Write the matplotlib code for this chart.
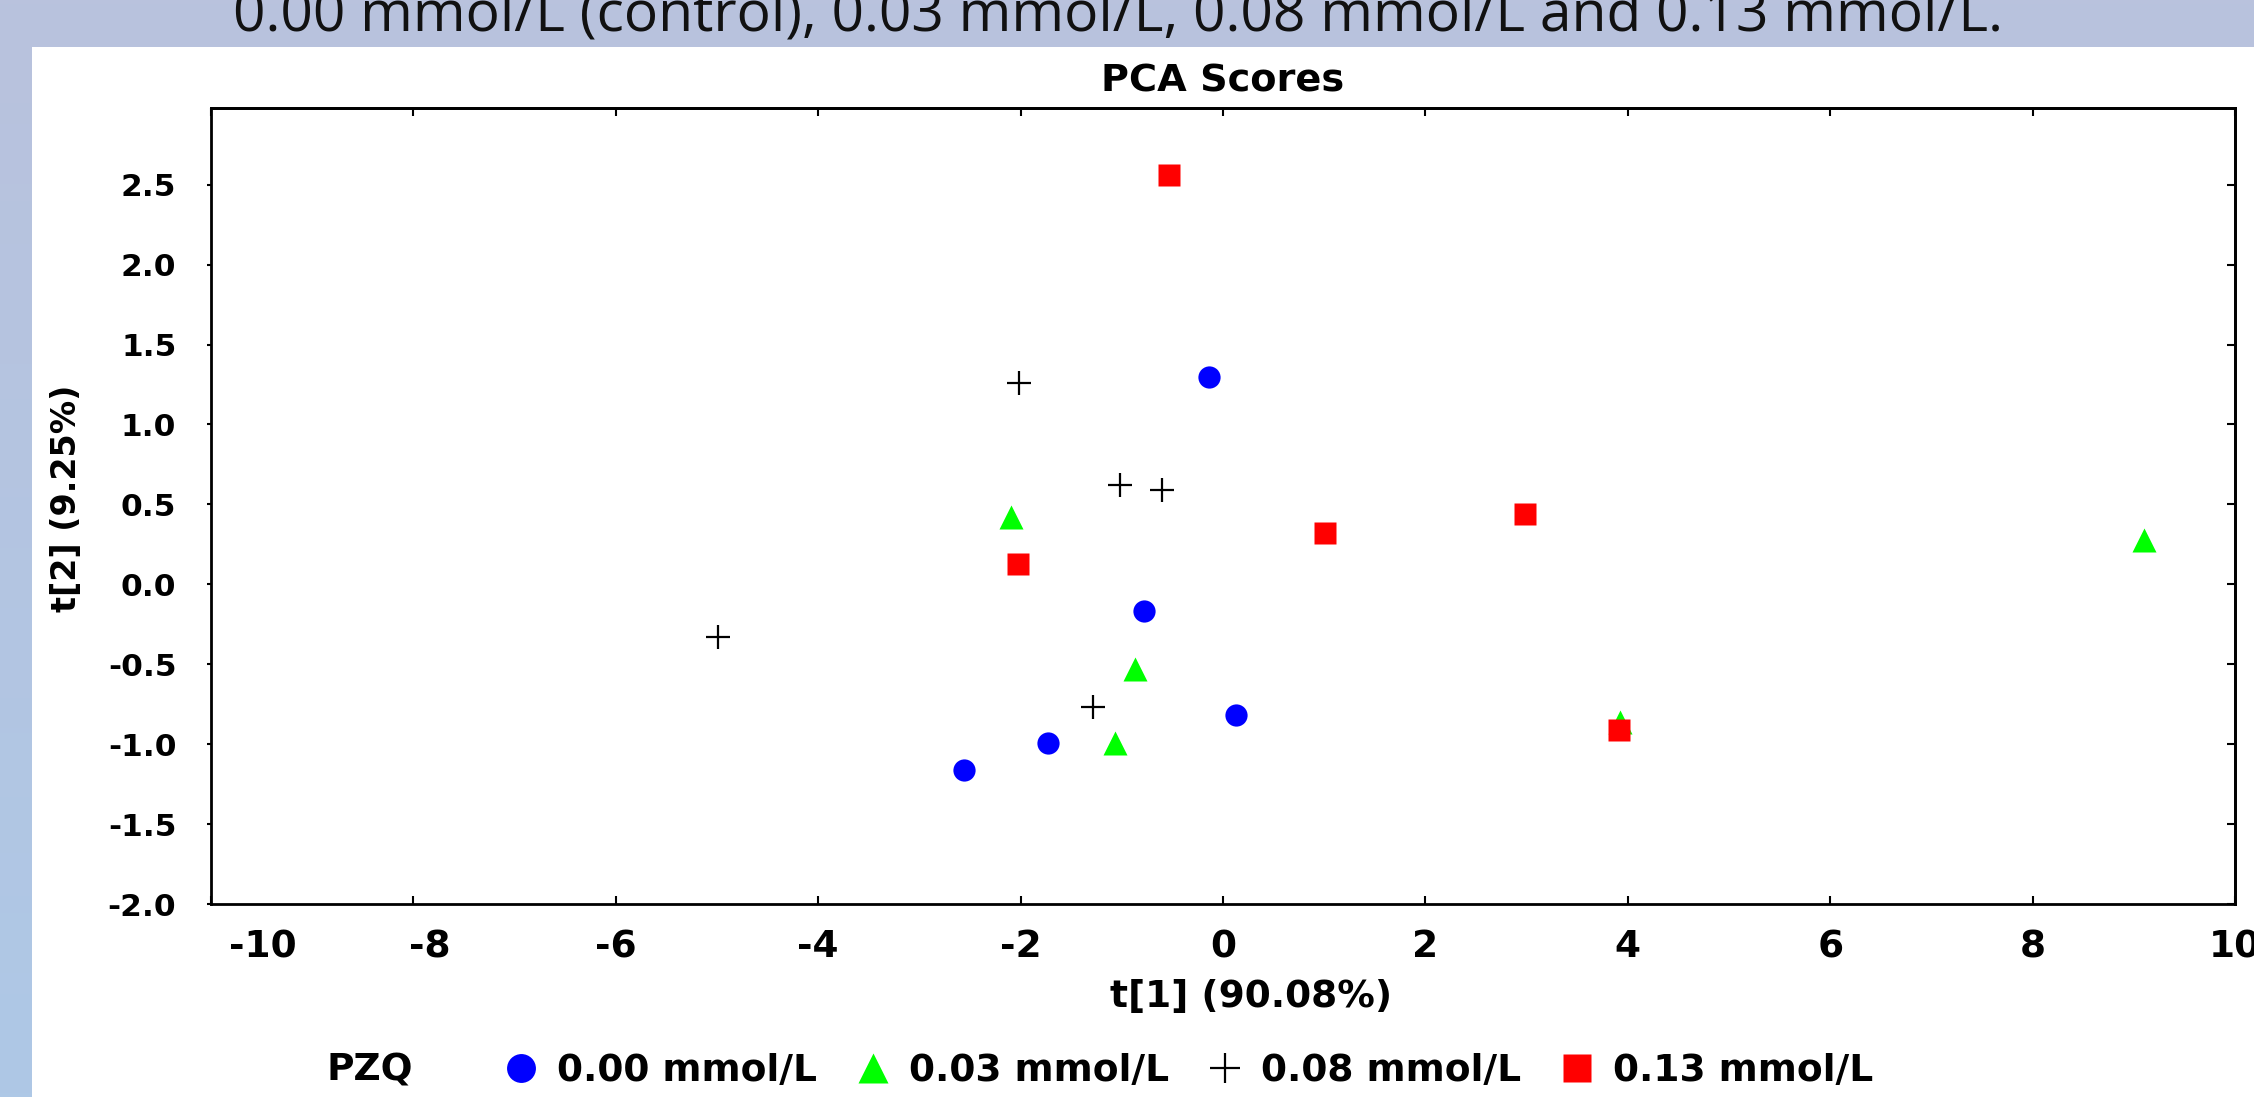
import numpy as np
import matplotlib
matplotlib.use('Agg')
import matplotlib.pyplot as plt
import matplotlib.transforms as mtransforms
from matplotlib.patches import Rectangle

# PCA scores
pzq_labels = ['0.00 mmol/L', '0.03 mmol/L', '0.08 mmol/L', '0.13 mmol/L']

t1_000 = [-0.14, -0.78, 0.13, -1.73, -2.56]
t2_000 = [1.30, -0.17, -0.82, -0.99, -1.16]

t1_003 = [-2.09, -0.87, -1.07, 3.92, 9.10]
t2_003 = [0.42, -0.53, -0.99, -0.86, 0.28]

t1_008 = [-2.02, -1.02, -0.60, -4.99, -1.28]
t2_008 = [1.26, 0.62, 0.59, -0.33, -0.77]

t1_013 = [-0.53, -2.03, 1.01, 2.98, 3.91]
t2_013 = [2.56, 0.13, 0.32, 0.44, -0.91]

xticks = [-10, -8, -6, -4, -2, 0, 2, 4, 6, 8, 10]
yticks = [-2.0, -1.5, -1.0, -0.5, 0.0, 0.5, 1.0, 1.5, 2.0, 2.5]

W, H = 2254, 1097
fig = plt.figure(figsize=(W/100, H/100), dpi=100)

#Slide background: flat band on top, gradient strip on the left
bg = fig.add_axes([0, 0, 1, 1], zorder=-10)
top_c = np.array([185, 194, 221])/255.
bot_c = np.array([174, 200, 230])/255.
s = np.linspace(0, 1, 256)[:, None, None]
grad = top_c*(1-s) + bot_c*s
bg.imshow(grad, aspect='auto', extent=[0, 1, 0, 1])
bg.add_patch(Rectangle((32/W, 0), 1, 1-47/H, facecolor='white', edgecolor='none'))
bg.set_xlim(0, 1)
bg.set_ylim(0, 1)
bg.axis('off')

fig.text(1118/W, 1-32/H, '0.00 mmol/L (control), 0.03 mmol/L, 0.08 mmol/L and 0.13 mmol/L.',
         ha='center', va='baseline', fontsize=41, family='Open Sans', color='#111111')

ax = fig.add_axes([211/W, 1-904/H, (2235-211)/W, (904-108)/H])
ax.set_xlim(-10, 10)
ax.set_ylim(-2.0, 2.98)

ax.plot(t1_000, t2_000, 'o', color='#0000ff', ms=16, mec='none', ls='none', label=pzq_labels[0])
ax.plot(t1_003, t2_003, '^', color='#00ff00', ms=17, mec='none', ls='none', label=pzq_labels[1])
ax.plot(t1_008, t2_008, '+', color='black', ms=17, mew=1.6, ls='none', label=pzq_labels[2])
ax.plot(t1_013, t2_013, 's', color='#ff0000', ms=16, mec='none', ls='none', label=pzq_labels[3])

bold = dict(family='DejaVu Sans', weight='bold')
ax.set_xticks(xticks)
ax.set_xticklabels([str(v) for v in xticks], fontsize=27, **bold)
ax.set_yticks(yticks)
ax.set_yticklabels(['%.1f' % v for v in yticks], fontsize=22.5, **bold)
ax.tick_params(axis='x', direction='in', length=6, width=1.5, pad=18)
ax.tick_params(axis='y', direction='out', length=3, width=1.5, pad=22)

#first two x labels sit a bit to the right in the original
for lab, dx in zip(ax.get_xticklabels()[:2], [52, 16]):
    lab.set_transform(lab.get_transform() + mtransforms.ScaledTranslation(dx/100, 0, fig.dpi_scale_trans))

secx = ax.secondary_xaxis('top')
secx.set_xticks(xticks)
secx.tick_params(direction='in', length=6, width=1.5, labeltop=False)
secy = ax.secondary_yaxis('right')
secy.set_yticks(yticks)
secy.tick_params(direction='in', length=6, width=1.5, labelright=False)

for sp in list(ax.spines.values()) + [secx.spines['top'], secy.spines['right']]:
    sp.set_linewidth(2)

ax.set_title('PCA Scores', fontsize=27.5, pad=12, **bold)
ax.set_xlabel('t[1] (90.08%)', fontsize=27, labelpad=10, x=0.514, **bold)
ax.set_ylabel('t[2] (9.25%)', fontsize=24, labelpad=18, y=0.51, **bold)

fig.text(370/W, 1-1071/H, 'PZQ', ha='center', va='center', fontsize=27, **bold)
handles, labels = ax.get_legend_handles_labels()
fig.legend(handles, labels, loc='center', bbox_to_anchor=(1188/W, 1-1071/H), ncol=4,
           frameon=False, prop=dict(size=27, **bold), handlelength=1.0,
           handletextpad=0.45, columnspacing=1.0, markerscale=1.3)

fig.savefig('out.png', dpi=100)
